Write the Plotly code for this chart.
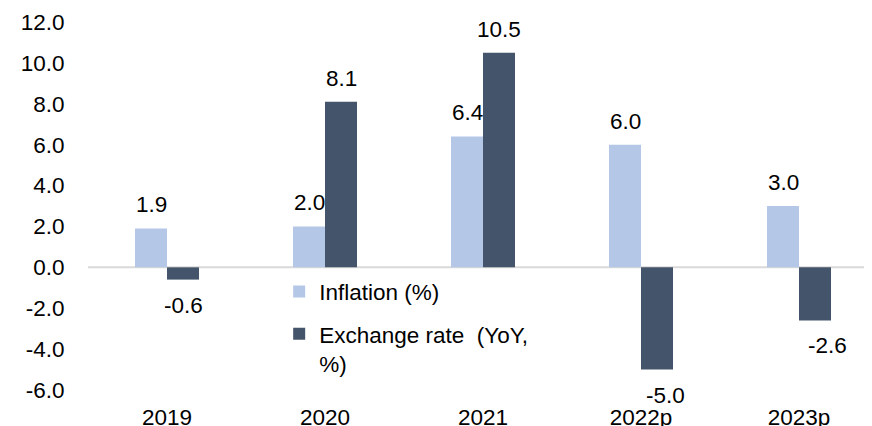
import plotly.graph_objects as go

categories = ["2019", "2020", "2021", "2022p", "2023p"]
inflation = [1.9, 2.0, 6.4, 6.0, 3.0]
exchange_rate = [-0.6, 8.1, 10.5, -5.0, -2.6]
series_names = ["Inflation (%)", "Exchange rate\u00a0\u00a0(YoY,<br>%)"]
colors = ["#B4C7E7", "#44546A"]
ytick_values = [-6, -4, -2, 0, 2, 4, 6, 8, 10, 12]
ytick_labels = ["-6.0", "-4.0", "-2.0", "0.0", "2.0", "4.0", "6.0", "8.0", "10.0", "12.0"]

# small horizontal nudges of individual data labels (pixels), as in the reference
label_nudge = {(1, 3): 8, (1, 4): 12}

FONT = "Liberation Sans, Arial, sans-serif"
FS = 22.5
bargap = 0.595
half = (1 - bargap) / 4  # center offset of each bar within its group

fig = go.Figure()
for name, vals, col, grp in zip(series_names, [inflation, exchange_rate], colors, ["a", "b"]):
    fig.add_trace(go.Bar(x=categories, y=vals, name=name, marker_color=col,
                         marker_line_width=0, legendgroup=grp))

annotations = []
for k, vals in enumerate([inflation, exchange_rate]):
    off = -half if k == 0 else half
    for i, v in enumerate(vals):
        annotations.append(dict(
            x=i + off, y=v, xref="x", yref="y", text=f"{v:.1f}", showarrow=False,
            xshift=label_nudge.get((k, i), 0),
            yanchor="bottom" if v >= 0 else "top", yshift=9 if v >= 0 else -11,
            font=dict(family=FONT, size=FS, color="#000000")))

fig.update_layout(
    template="none",
    width=872, height=418,
    margin=dict(l=80, r=2, t=14, b=36),
    paper_bgcolor="white", plot_bgcolor="white",
    barmode="group", bargap=bargap, bargroupgap=0,
    font=dict(family=FONT, size=FS, color="#000000"),
    annotations=annotations,
    shapes=[dict(type="line", xref="paper", yref="y", x0=0, x1=1, y0=0, y1=0,
                 line=dict(color="#D9D9D9", width=2), layer="below")],
    showlegend=True,
    legend=dict(x=0.242, y=0.325, xanchor="left", yanchor="top",
                bgcolor="rgba(0,0,0,0)", font=dict(family=FONT, size=FS),
                valign="top", tracegroupgap=10, traceorder="grouped"),
)
fig.update_xaxes(type="category", showgrid=False, showline=False, zeroline=False,
                 automargin=False,
                 ticks="outside", ticklen=7, tickcolor="rgba(0,0,0,0)",
                 tickfont=dict(family=FONT, size=FS))
fig.update_yaxes(range=[-6, 12], tickvals=ytick_values, ticktext=ytick_labels,
                 showgrid=False, automargin=False,
                 showline=False, zeroline=False,
                 ticks="outside", ticklen=18, tickcolor="rgba(0,0,0,0)",
                 tickfont=dict(family=FONT, size=FS))

fig.write_html(
    "out.html",
    post_script="document.documentElement.style.overflow='hidden';"
                "document.body.style.overflow='hidden';",
)
